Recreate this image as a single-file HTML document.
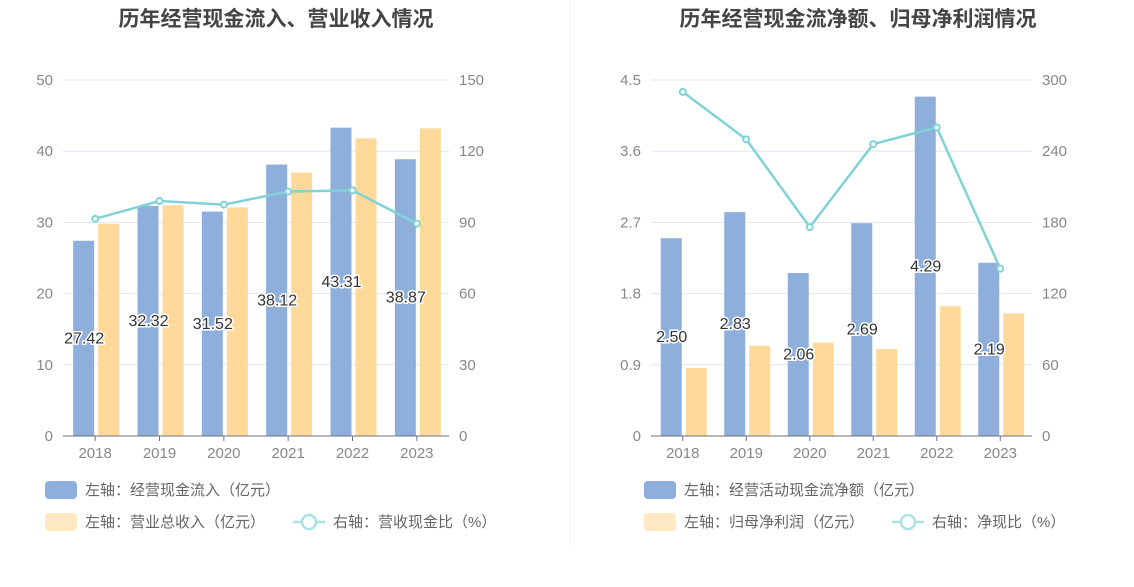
<!DOCTYPE html>
<html><head><meta charset="utf-8">
<style>
body{margin:0;background:#fff;width:1134px;height:582px;overflow:hidden;font-family:"Liberation Sans","Noto Sans CJK SC",sans-serif;}
svg text{font-family:"Liberation Sans","Noto Sans CJK SC",sans-serif;}
</style></head><body>
<svg id="c" width="1134" height="582"></svg>
<script>
const years=['2018','2019','2020','2021','2022','2023'];
const inflow=[27.42,32.32,31.52,38.12,43.31,38.87];
const revenue=[29.8,32.4,32.1,37.0,41.8,43.2];
const ratio1=[91.5,99,97.5,103,103.5,89.5];
const netcf=[2.50,2.83,2.06,2.69,4.29,2.19];
const profit=[0.86,1.14,1.18,1.10,1.64,1.55];
const ratio2=[290,250,176,246,260,141];
const leftTicks1=['0','10','20','30','40','50'];
const rightTicks1=['0','30','60','90','120','150'];
const leftTicks2=['0','0.9','1.8','2.7','3.6','4.5'];
const rightTicks2=['0','60','120','180','240','300'];
const NS='http://www.w3.org/2000/svg';
const svg=document.getElementById('c');
function mk(t,a,p){const e=document.createElementNS(NS,t);for(const k in a)e.setAttribute(k,a[k]);(p||svg).appendChild(e);return e;}
function chart(o){
  const g=mk('g',{});
  
  
  const x0=o.x0,x1=o.x1,yT=80,yB=436;
  const yL=v=>yB-(v/o.lmax)*(yB-yT);
  const yR=v=>yB-(v/o.rmax)*(yB-yT);
  const cw=(x1-x0)/years.length;
  const t=mk('text',{x:o.tx,y:26,'text-anchor':'middle','font-size':21,'font-weight':'bold',fill:'#444'},g);t.textContent=o.title;
  
  for(let i=0;i<6;i++){
    const y=yB-i*(yB-yT)/5;
    if(i>0){const gl=mk('line',{x1:x0,x2:x1,y1:y,y2:y,stroke:'#e0e6f1','stroke-width':1},g);}
    const a=mk('text',{x:x0-10,y:y+5,'text-anchor':'end','font-size':15,fill:'#888'},g);a.textContent=o.lt[i];
    
    const b=mk('text',{x:x1+10,y:y+5,'text-anchor':'start','font-size':15,fill:'#888'},g);b.textContent=o.rt[i];
    
  }
  years.forEach((yr,i)=>{
    const c=x0+cw*(i+0.5);
    const b1=mk('rect',{x:c-22,y:yL(o.a[i]),width:21,height:yB-yL(o.a[i]),fill:'#8eaedb'},g);
    
    const b2=mk('rect',{x:c+3,y:yL(o.b[i]),width:21,height:yB-yL(o.b[i]),fill:'#ffd99a'},g);
    
    const tk=mk('line',{x1:c,x2:c,y1:yB,y2:yB+5,stroke:'#6e7079'},g);
    
    const xl=mk('text',{x:c,y:yB+22,'text-anchor':'middle','font-size':15,fill:'#888'},g);xl.textContent=yr;
    
  });
  const ax=mk('line',{x1:x0,x2:x1,y1:yB,y2:yB,stroke:'#6e7079','stroke-width':1},g);
  
  const pts=o.r.map((v,i)=>(x0+cw*(i+0.5))+','+yR(v)).join(' ');
  const pl=mk('polyline',{points:pts,fill:'none',stroke:'#7fd3d6','stroke-width':2.5},g);
  
  o.r.forEach((v,i)=>{const p=mk('circle',{cx:x0+cw*(i+0.5),cy:yR(v),r:3,fill:'#fff',stroke:'#7fd3d6','stroke-width':2},g);
    });
  o.a.forEach((v,i)=>{const c=x0+cw*(i+0.5)-11;
    const l=mk('text',{x:c,y:(yL(v)+yB)/2+5,'text-anchor':'middle','font-size':16,fill:'#333',stroke:'#fff','stroke-width':3,'paint-order':'stroke'},g);
    l.textContent=v.toFixed(2);});
  // legend
  const lg=[[o.lx,490,'#8eaedb',o.l1],[o.lx,522,'#ffe8c2',o.l2]];
  lg.forEach(d=>{const r=mk('rect',{x:d[0],y:d[1]-9,width:32,height:18,rx:4,fill:d[2]},g);
    
    const tx=mk('text',{x:d[0]+40,y:d[1]+5,'font-size':15,fill:'#666'},g);tx.textContent=d[3];
    });
  const lx=o.l3x;
  const ll=mk('line',{x1:lx,x2:lx+32,y1:522,y2:522,stroke:'#a8e2e4','stroke-width':2.5},g);
  
  const lc=mk('circle',{cx:lx+16,cy:522,r:7,fill:'#fff',stroke:'#a8e2e4','stroke-width':2.5},g);
  
  const lt=mk('text',{x:lx+40,y:527,'font-size':15,fill:'#666'},g);lt.textContent=o.l3;
  
}
chart({name:'left-chart',x0:63,x1:449,lmax:50,rmax:150,title:'历年经营现金流入、营业收入情况',tx:276,lt:leftTicks1,rt:rightTicks1,a:inflow,b:revenue,r:ratio1,lx:45,l1:'左轴：经营现金流入（亿元）',l2:'左轴：营业总收入（亿元）',l3x:293,l3:'右轴：营收现金比（%）'});
chart({name:'right-chart',x0:651,x1:1032,lmax:4.5,rmax:300,title:'历年经营现金流净额、归母净利润情况',tx:858,lt:leftTicks2,rt:rightTicks2,a:netcf,b:profit,r:ratio2,lx:644,l1:'左轴：经营活动现金流净额（亿元）',l2:'左轴：归母净利润（亿元）',l3x:892,l3:'右轴：净现比（%）'});
const dv=mk('line',{x1:570,x2:570,y1:0,y2:545,stroke:'#eef0f4','stroke-width':1});

</script>
</body></html>
